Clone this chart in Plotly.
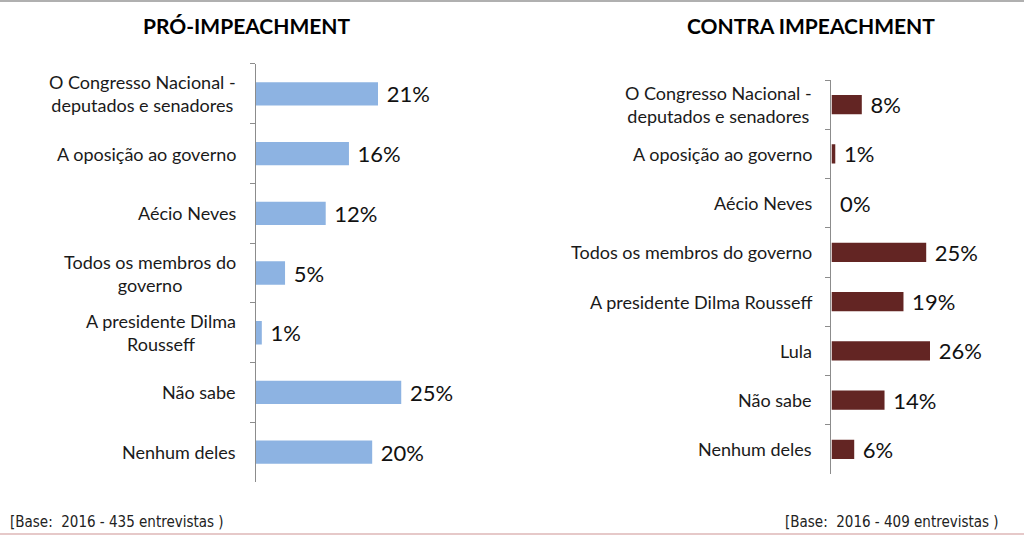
import plotly.graph_objects as go

# ---- data ----
pro_categories = ["O Congresso Nacional - deputados e senadores", "A oposição ao governo",
                  "Aécio Neves", "Todos os membros do governo", "A presidente Dilma Rousseff",
                  "Não sabe", "Nenhum deles"]
pro_labels = ["O Congresso Nacional -<br>deputados e senadores", "A oposição ao governo",
              "Aécio Neves", "Todos os membros do<br>governo", "A presidente Dilma<br>Rousseff",
              "Não sabe", "Nenhum deles"]
pro_values = [21, 16, 12, 5, 1, 25, 20]

contra_categories = ["O Congresso Nacional - deputados e senadores", "A oposição ao governo",
                     "Aécio Neves", "Todos os membros do governo", "A presidente Dilma Rousseff",
                     "Lula", "Não sabe", "Nenhum deles"]
contra_labels = ["O Congresso Nacional -<br>deputados e senadores", "A oposição ao governo",
                 "Aécio Neves", "Todos os membros do governo", "A presidente Dilma Rousseff",
                 "Lula", "Não sabe", "Nenhum deles"]
contra_values = [8, 1, 0, 25, 19, 26, 14, 6]

titles = ["PRÓ-IMPEACHMENT", "CONTRA IMPEACHMENT"]
footers = ["[Base:\u00a0\u00a02016 - 435 entrevistas )", "[Base:\u00a0\u00a02016 - 409 entrevistas )"]

BLUE = "#8DB3E2"
RED = "#632523"
LABEL_FONT = dict(family="Lato, Carlito, sans-serif", size=18, color="#1a1a1a")
VALUE_FONT = dict(family="Lato, Carlito, sans-serif", size=22, color="#111111")

fig = go.Figure()

fig.add_trace(go.Bar(
    x=pro_values, y=pro_categories, orientation="h", marker=dict(color=BLUE, line_width=0),
    width=0.39, text=[f"\u00a0{v}%" for v in pro_values], textposition="outside",
    textfont=VALUE_FONT, constraintext="none", cliponaxis=False,
    xaxis="x", yaxis="y", hoverinfo="skip", showlegend=False))

fig.add_trace(go.Bar(
    x=contra_values, y=contra_categories, orientation="h", marker=dict(color=RED, line_width=0),
    width=0.39, text=[f"\u00a0{v}%" for v in contra_values], textposition="outside",
    textfont=VALUE_FONT, constraintext="none", cliponaxis=False,
    xaxis="x2", yaxis="y2", hoverinfo="skip", showlegend=False))

yax_common = dict(type="category", showline=True, linecolor="#8c8c8c", linewidth=1,
                  ticks="outside", ticklen=5, tickcolor="#8c8c8c", tickson="boundaries",
                  showticklabels=False, showgrid=False, zeroline=False, fixedrange=True)

fig.update_layout(
    width=1024, height=536, margin=dict(l=0, r=0, t=0, b=0),
    paper_bgcolor="white", plot_bgcolor="rgba(0,0,0,0)",
    xaxis=dict(domain=[0.25, 0.4202], range=[0, 30], visible=False, fixedrange=True),
    yaxis=dict(domain=[0.1007, 0.8806], range=[len(pro_categories) - 0.5, -0.5], **yax_common),
    xaxis2=dict(domain=[0.812, 0.96], range=[0, 40], visible=False, fixedrange=True),
    yaxis2=dict(domain=[0.1157, 0.8507], range=[len(contra_categories) - 0.5, -0.5],
                anchor="x2", **yax_common),
)
fig.update_layout(xaxis2_anchor="y2")

annotations = []
for cat, lab in zip(pro_categories, pro_labels):
    annotations.append(dict(xref="paper", yref="y", x=238 / 1024, y=cat, text=lab,
                            xanchor="right", yanchor="middle", align="center",
                            showarrow=False, font=LABEL_FONT))
for cat, lab in zip(contra_categories, contra_labels):
    annotations.append(dict(xref="paper", yref="y2", x=814 / 1024, y=cat, text=lab,
                            xanchor="right", yanchor="middle", align="center",
                            showarrow=False, font=LABEL_FONT))

TITLE_FONT = dict(family="Lato, sans-serif", size=21, color="black")
annotations.append(dict(xref="paper", yref="paper", x=247 / 1024, y=1 - 25 / 536,
                        text=f"<b>{titles[0]}</b>", showarrow=False, xanchor="center",
                        yanchor="middle", font=TITLE_FONT))
annotations.append(dict(xref="paper", yref="paper", x=811 / 1024, y=1 - 25 / 536,
                        text=f"<b>{titles[1]}</b>", showarrow=False, xanchor="center",
                        yanchor="middle", font=TITLE_FONT))

FOOT_FONT = dict(family="DejaVu Sans Condensed, Liberation Sans Narrow, sans-serif",
                 size=15, color="#222222")
annotations.append(dict(xref="paper", yref="paper", x=8 / 1024, y=1 - 522 / 536,
                        text=footers[0], showarrow=False, xanchor="left", yanchor="middle",
                        font=FOOT_FONT))
annotations.append(dict(xref="paper", yref="paper", x=783 / 1024, y=1 - 522 / 536,
                        text=footers[1], showarrow=False, xanchor="left", yanchor="middle",
                        font=FOOT_FONT))
fig.update_layout(annotations=annotations)

fig.update_layout(shapes=[
    dict(type="line", xref="paper", yref="paper", x0=0, x1=1, y0=1 - 1 / 536, y1=1 - 1 / 536,
         line=dict(color="#b0b0b0", width=2)),
    dict(type="line", xref="paper", yref="paper", x0=0, x1=1, y0=1 - 534 / 536, y1=1 - 534 / 536,
         line=dict(color="#e6c9c9", width=2)),
])

fig.write_html("out.html", config={"displayModeBar": False},
               post_script="document.body.style.margin='0';document.body.style.padding='0';")
